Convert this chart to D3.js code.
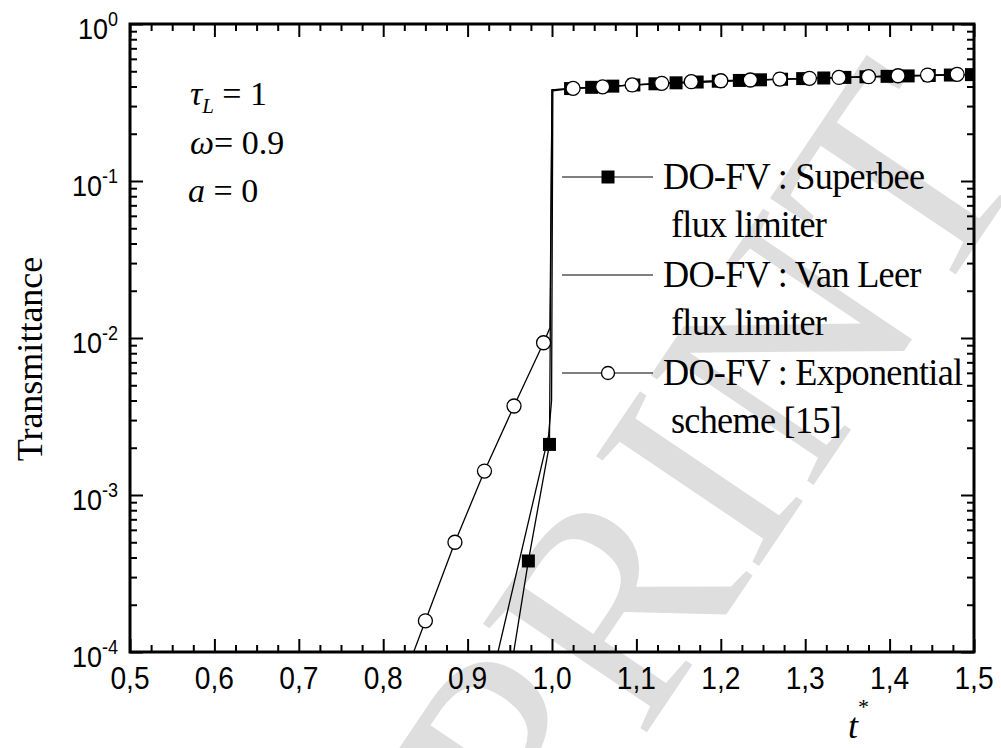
<!DOCTYPE html>
<html>
<head>
<meta charset="utf-8">
<script src="https://cdn.jsdelivr.net/npm/d3@7"></script>
<style>
  body { margin: 0; background: #fff; }
  svg { display: block; }
</style>
</head>
<body>
<svg id="chart"></svg>
<script>
// ---- dados ----
const xTicks = [0.5, 0.6, 0.7, 0.8, 0.9, 1.0, 1.1, 1.2, 1.3, 1.4, 1.5];
const yExps = [0, -1, -2, -3, -4];

// Superbee (quadrados cheios)
const superT = [0.950, 0.972, 0.997, 1.000, 1.022, 1.047, 1.072, 1.097, 1.122, 1.147, 1.172, 1.197, 1.222, 1.247, 1.272, 1.297, 1.322, 1.347, 1.372, 1.397, 1.422, 1.447, 1.472, 1.497];
const superV = [7.0e-5, 3.8e-4, 2.1e-3, 0.380, 0.388, 0.395, 0.402, 0.409, 0.416, 0.422, 0.427, 0.432, 0.437, 0.441, 0.445, 0.449, 0.453, 0.457, 0.461, 0.464, 0.467, 0.470, 0.473, 0.476];
const superMarks = [false, true, true, false, true, true, true, true, true, true, true, true, true, true, true, true, true, true, true, true, true, true, true, true];

// Van Leer (só linha)
const vanT = [0.925, 0.936, 0.996, 0.9995, 1.001, 1.025, 1.100, 1.200, 1.300, 1.400, 1.500];
const vanV = [5.5e-5, 1.0e-4, 2.4e-3, 4.0e-3, 0.375, 0.389, 0.410, 0.432, 0.449, 0.464, 0.477];

// Exponencial (círculos abertos)
const expT = [0.815, 0.850, 0.885, 0.920, 0.955, 0.990, 0.9976, 1.000, 1.025, 1.060, 1.095, 1.130, 1.165, 1.200, 1.235, 1.270, 1.305, 1.340, 1.375, 1.410, 1.445, 1.480];
const expV = [5.0e-5, 1.58e-4, 5.0e-4, 1.42e-3, 3.69e-3, 9.33e-3, 1.16e-2, 0.380, 0.389, 0.398, 0.409, 0.419, 0.429, 0.435, 0.440, 0.446, 0.451, 0.457, 0.462, 0.468, 0.473, 0.478];
const expMarks = [false, true, true, true, true, true, false, false, true, true, true, true, true, true, true, true, true, true, true, true, true, true];

const legendLines = [
  { text: "DO-FV : Superbee", sub: "flux limiter", mark: "square" },
  { text: "DO-FV : Van Leer", sub: "flux limiter", mark: "none" },
  { text: "DO-FV : Exponential", sub: "scheme [15]", mark: "circle" }
];

const W = 1001, H = 748;
const m = { left: 130, top: 24, right: 974, bottom: 652 };

const svg = d3.select("#chart").attr("width", W).attr("height", H)
  .attr("viewBox", "0 0 " + W + " " + H);

// marca d'água
svg.append("text")
  .attr("transform", "translate(790,520) rotate(-56)")
  .attr("text-anchor", "middle")
  .attr("font-family", "Liberation Serif")
  .attr("font-size", 300)
  .attr("fill", "#dedede")
  .text("PRINT");

const x = d3.scaleLinear().domain([0.5, 1.5]).range([m.left, m.right]);
const y = d3.scaleLog().domain([1e-4, 1]).range([m.bottom, m.top]);

svg.append("clipPath").attr("id", "area")
  .append("rect").attr("x", m.left).attr("y", m.top)
  .attr("width", m.right - m.left).attr("height", m.bottom - m.top);

// ---- eixos ----
const minorX = d3.range(0, 41).map(i => 0.5 + i * 0.025).filter(v => Math.abs(v * 10 - Math.round(v * 10)) > 1e-6);
const minorY = [];
yExps.slice(0, 4).forEach(e => { for (let k = 2; k <= 9; k++) minorY.push(k * Math.pow(10, e - 1)); });
const majorY = yExps.map(e => Math.pow(10, e));

function drawAxis(gen, tr) {
  const g = svg.append("g").attr("transform", tr).call(gen);
  g.select(".domain").remove();
  g.selectAll("line").attr("stroke", "#000").attr("stroke-width", 2);
  return g;
}

drawAxis(d3.axisBottom(x).tickValues(xTicks).tickSize(-13).tickFormat(""), `translate(0,${m.bottom})`);
drawAxis(d3.axisBottom(x).tickValues(minorX).tickSize(-7).tickFormat(""), `translate(0,${m.bottom})`);
drawAxis(d3.axisTop(x).tickValues(xTicks).tickSize(-13).tickFormat(""), `translate(0,${m.top})`);
drawAxis(d3.axisTop(x).tickValues(minorX).tickSize(-7).tickFormat(""), `translate(0,${m.top})`);
drawAxis(d3.axisLeft(y).tickValues(majorY).tickSize(-13).tickFormat(""), `translate(${m.left},0)`);
drawAxis(d3.axisLeft(y).tickValues(minorY).tickSize(-7).tickFormat(""), `translate(${m.left},0)`);
drawAxis(d3.axisRight(y).tickValues(majorY).tickSize(-13).tickFormat(""), `translate(${m.right},0)`);
drawAxis(d3.axisRight(y).tickValues(minorY).tickSize(-7).tickFormat(""), `translate(${m.right},0)`);

svg.append("rect").attr("x", m.left).attr("y", m.top)
  .attr("width", m.right - m.left).attr("height", m.bottom - m.top)
  .attr("fill", "none").attr("stroke", "#000").attr("stroke-width", 3);

// rótulos do eixo x (um pouco estreitos, como no original)
svg.append("g").selectAll("text").data(xTicks).enter().append("text")
  .attr("transform", d => `translate(${x(d)},689) scale(0.88,1)`)
  .attr("text-anchor", "middle")
  .attr("font-family", "Liberation Sans").attr("font-size", 32)
  .text(d => d.toFixed(1).replace(".", ","));

// rótulos do eixo y (10 com expoente)
const yl = svg.append("g").selectAll("text").data(yExps).enter().append("text")
  .attr("transform", d => `translate(118,${y(Math.pow(10, d)) + 15}) scale(0.9,1)`)
  .attr("text-anchor", "end")
  .attr("font-family", "Liberation Sans").attr("font-size", 30);
yl.append("tspan").text("10");
yl.append("tspan").attr("dy", -13).attr("font-size", 20).text(d => d);

// títulos
svg.append("text")
  .attr("transform", "translate(42,359) rotate(-90)")
  .attr("text-anchor", "middle")
  .attr("font-family", "Liberation Serif").attr("font-size", 36)
  .text("Transmittance");

const tx = svg.append("text").attr("x", 848).attr("y", 738)
  .attr("font-family", "Liberation Serif").attr("font-size", 36).attr("font-style", "italic");
tx.append("tspan").text("t");
tx.append("tspan").attr("dy", -24).attr("font-size", 22).attr("font-style", "normal").text("*");

// anotações
const ann = svg.append("g").attr("font-family", "Liberation Serif").attr("font-size", 34);
const a1 = ann.append("text").attr("x", 190).attr("y", 105);
a1.append("tspan").attr("font-style", "italic").text("τ");
a1.append("tspan").attr("font-style", "italic").attr("font-size", 21).attr("dy", 8).text("L");
a1.append("tspan").attr("dy", -8).text(" = 1");
const a2 = ann.append("text").attr("x", 190).attr("y", 154);
a2.append("tspan").attr("font-style", "italic").text("ω");
a2.append("tspan").text("= 0.9");
const a3 = ann.append("text").attr("x", 188).attr("y", 202);
a3.append("tspan").attr("font-style", "italic").text("a");
a3.append("tspan").text(" = 0");

// ---- curvas ----
const line = d3.line().x(d => x(d[0])).y(d => y(d[1]));
const plot = svg.append("g").attr("clip-path", "url(#area)");

const superPts = superT.map((t, i) => [t, superV[i], superMarks[i]]);
const vanPts = vanT.map((t, i) => [t, vanV[i]]);
const expPts = expT.map((t, i) => [t, expV[i], expMarks[i]]);

[vanPts, superPts, expPts].forEach(p => {
  plot.append("path").datum(p).attr("d", line)
    .attr("fill", "none").attr("stroke", "#000").attr("stroke-width", 1.3);
});

plot.selectAll("rect.sq").data(superPts.filter(d => d[2])).enter().append("rect")
  .attr("class", "sq")
  .attr("x", d => x(d[0]) - 6.5).attr("y", d => y(d[1]) - 6.5)
  .attr("width", 13).attr("height", 13).attr("fill", "#000");

plot.selectAll("circle.ci").data(expPts.filter(d => d[2])).enter().append("circle")
  .attr("class", "ci")
  .attr("cx", d => x(d[0])).attr("cy", d => y(d[1])).attr("r", 7)
  .attr("fill", "#fff").attr("stroke", "#000").attr("stroke-width", 1.3);

// ---- legenda ----
const leg = svg.append("g");
legendLines.forEach((d, i) => {
  const ly = 177 + i * 98;
  leg.append("line").attr("x1", 562).attr("x2", 653).attr("y1", ly).attr("y2", ly)
    .attr("stroke", "#000").attr("stroke-width", 1.2);
  if (d.mark === "square") {
    leg.append("rect").attr("x", 608 - 6.5).attr("y", ly - 6.5).attr("width", 13).attr("height", 13).attr("fill", "#000");
  } else if (d.mark === "circle") {
    leg.append("circle").attr("cx", 608).attr("cy", ly).attr("r", 6.5)
      .attr("fill", "#fff").attr("stroke", "#000").attr("stroke-width", 1.3);
  }
  leg.append("text").attr("transform", `translate(663,${ly + 12}) scale(0.93,1)`)
    .attr("font-family", "Liberation Serif").attr("font-size", 39).attr("letter-spacing", -0.8)
    .text(d.text);
  leg.append("text").attr("transform", `translate(671,${ly + 60}) scale(0.93,1)`)
    .attr("font-family", "Liberation Serif").attr("font-size", 39).attr("letter-spacing", -0.8)
    .text(d.sub);
});
</script>
</body>
</html>
